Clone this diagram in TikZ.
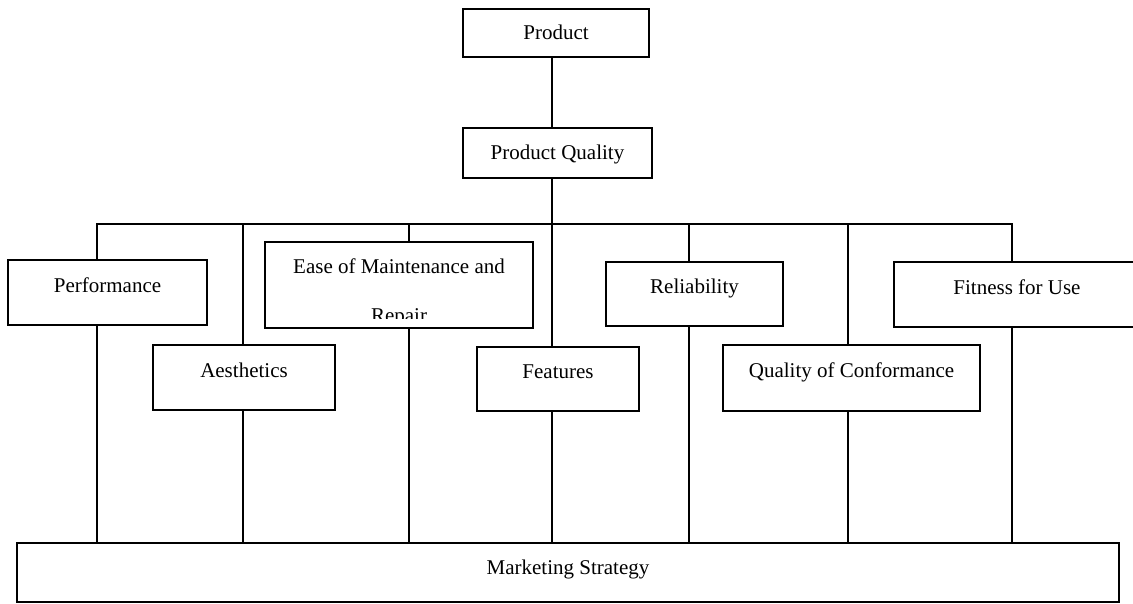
\documentclass[tikz,border=0pt]{standalone}
\usepackage{fontspec}
\setmainfont{Liberation Serif}
\usetikzlibrary{backgrounds}

\begin{document}
\begin{tikzpicture}[x=1pt, y=-1pt,
    box/.style = {draw, fill=white, line width=1.3pt, inner sep=0pt, outer sep=0pt,
                  anchor=north west, font=\fontsize{21}{25}\selectfont},
    alto/.style = {box, text height=12pt, text depth=13pt},
    piatto/.style = {box, text height=15pt, text depth=2pt},
    testo/.style = {inner sep=0pt, font=\fontsize{21}{25}\selectfont},
    linea/.style = {line width=1.3pt, line cap=rect}]
    % Parametri
    \pgfmathsetmacro{\bus}{224}
    \pgfmathsetmacro{\tronco}{552}
    \useasboundingbox (0,0) rectangle (1133,603);
    % Vertice
    \node[piatto, minimum width=186pt, minimum height=48pt] (prod) at (463,9) {Product};
    \node[piatto, minimum width=189pt, minimum height=50pt] (pq) at (463,128) {Product Quality};
    % Dimensioni
    \node[alto, minimum width=199pt, minimum height=65pt] (perf) at (8,260) {Performance};
    \node[box, minimum width=268pt, minimum height=86pt] (ease) at (265,242) {};
    \node[alto, minimum width=182pt, minimum height=65pt] (aest) at (153,345) {Aesthetics};
    \node[alto, minimum width=162pt, minimum height=64pt] (feat) at (477,347) {Features};
    \node[alto, minimum width=177pt, minimum height=64pt] (rel) at (606,262) {Reliability};
    \node[alto, minimum width=257pt, minimum height=66pt] (qoc) at (723,345) {Quality of Conformance};
    \node[alto, minimum width=270pt, minimum height=65pt] (fit) at (894,262) {\hspace*{-24pt}Fitness for Use};
    % Testo tagliato
    \begin{scope}
        \clip (ease.north west) rectangle ([yshift=10pt]ease.south east);
        \node[testo, anchor=base] (ease1) at ([yshift=-31.5pt]ease.north) {Ease of Maintenance and};
        \node[testo, anchor=base] (ease2) at ([yshift=-80.5pt]ease.north) {Repair};
    \end{scope}
    % Base
    \node[box, text height=12pt, text depth=8pt, minimum width=1102pt, minimum height=59pt] (mkt) at (17,543) {Marketing Strategy};
    % Linee
    \coordinate (t) at (\tronco,\bus);
    \draw[linea] (prod.south -| t) -- (pq.north -| t);
    \draw[linea] (pq.south -| t) -- (t);
    \begin{scope}[on background layer]
        \foreach \x [count=\i] in {97,243,409,552,689,848,1012}{
            \coordinate (d\i) at (\x,\bus);
            \draw[linea] (d\i) -- (d\i |- mkt.north);
        }
        \draw[linea] (d1) -- (d7);
    \end{scope}
\end{tikzpicture}
\end{document}
